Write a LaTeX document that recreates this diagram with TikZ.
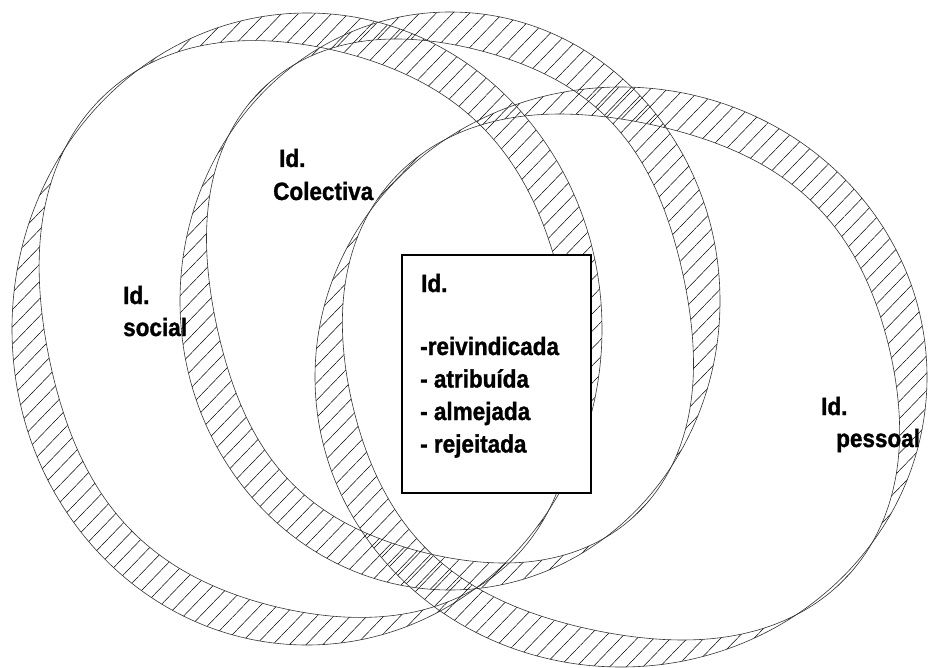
\documentclass[tikz,border=0pt]{standalone}
\usepackage{fontspec}
\setmainfont{Liberation Sans}[FakeStretch=0.9,BoldFeatures={FakeBold=1.2}]
\usetikzlibrary{patterns.meta}

\begin{document}
\begin{tikzpicture}[x=1pt,y=-1pt,
  ringline/.style={draw=black!80,line width=0.6pt},
  lbl/.style={inner sep=0pt,anchor=base west,font=\bfseries\fontsize{25}{30}\selectfont}]
\useasboundingbox (0,0) rectangle (928,668);
\foreach \cx/\cy/\rx/\ry/\sh in {307/329/295/316/0,450/301/270/289/4,621/377/306/290/8}{
  \fill[even odd rule,pattern={Lines[angle=46,distance=12pt,line width=0.5pt,xshift=\sh pt]}]
    (\cx,\cy) ellipse [x radius=\rx,y radius=\ry]
    plot[domain=0:357,samples=120,smooth cycle,variable=\a]
      ({\cx+(\rx-(25-21*sin(2*\a)+7*cos(4*\a)))*cos(\a)},{\cy+(\ry-(25-21*sin(2*\a)+7*cos(4*\a)))*sin(\a)});
  \draw[ringline] (\cx,\cy) ellipse [x radius=\rx,y radius=\ry];
  \draw[ringline] plot[domain=0:357,samples=120,smooth cycle,variable=\a]
      ({\cx+(\rx-(25-21*sin(2*\a)+7*cos(4*\a)))*cos(\a)},{\cy+(\ry-(25-21*sin(2*\a)+7*cos(4*\a)))*sin(\a)});
}
\node[draw,line width=1.3pt,fill=white,minimum width=189,minimum height=238,inner sep=0pt] (box) at (496.5,374) {};
\node[lbl] (s1) at (123,304) {Id.};
\node[lbl] (s2) at (123,336) {social};
\node[lbl] (c1) at (279,167) {Id.};
\node[lbl] (c2) at (273,200) {Colectiva};
\node[lbl] (p1) at (821,415) {Id.};
\node[lbl] (p2) at (836,447) {pessoal};
\node[lbl] (b0) at (421,292) {Id.};
\foreach \txt [count=\i] in {-reivindicada,- atribuída,- almejada,- rejeitada}
  \node[lbl] (b\i) at (420,{355+32.5*(\i-1)}) {\txt};
\end{tikzpicture}
\end{document}
